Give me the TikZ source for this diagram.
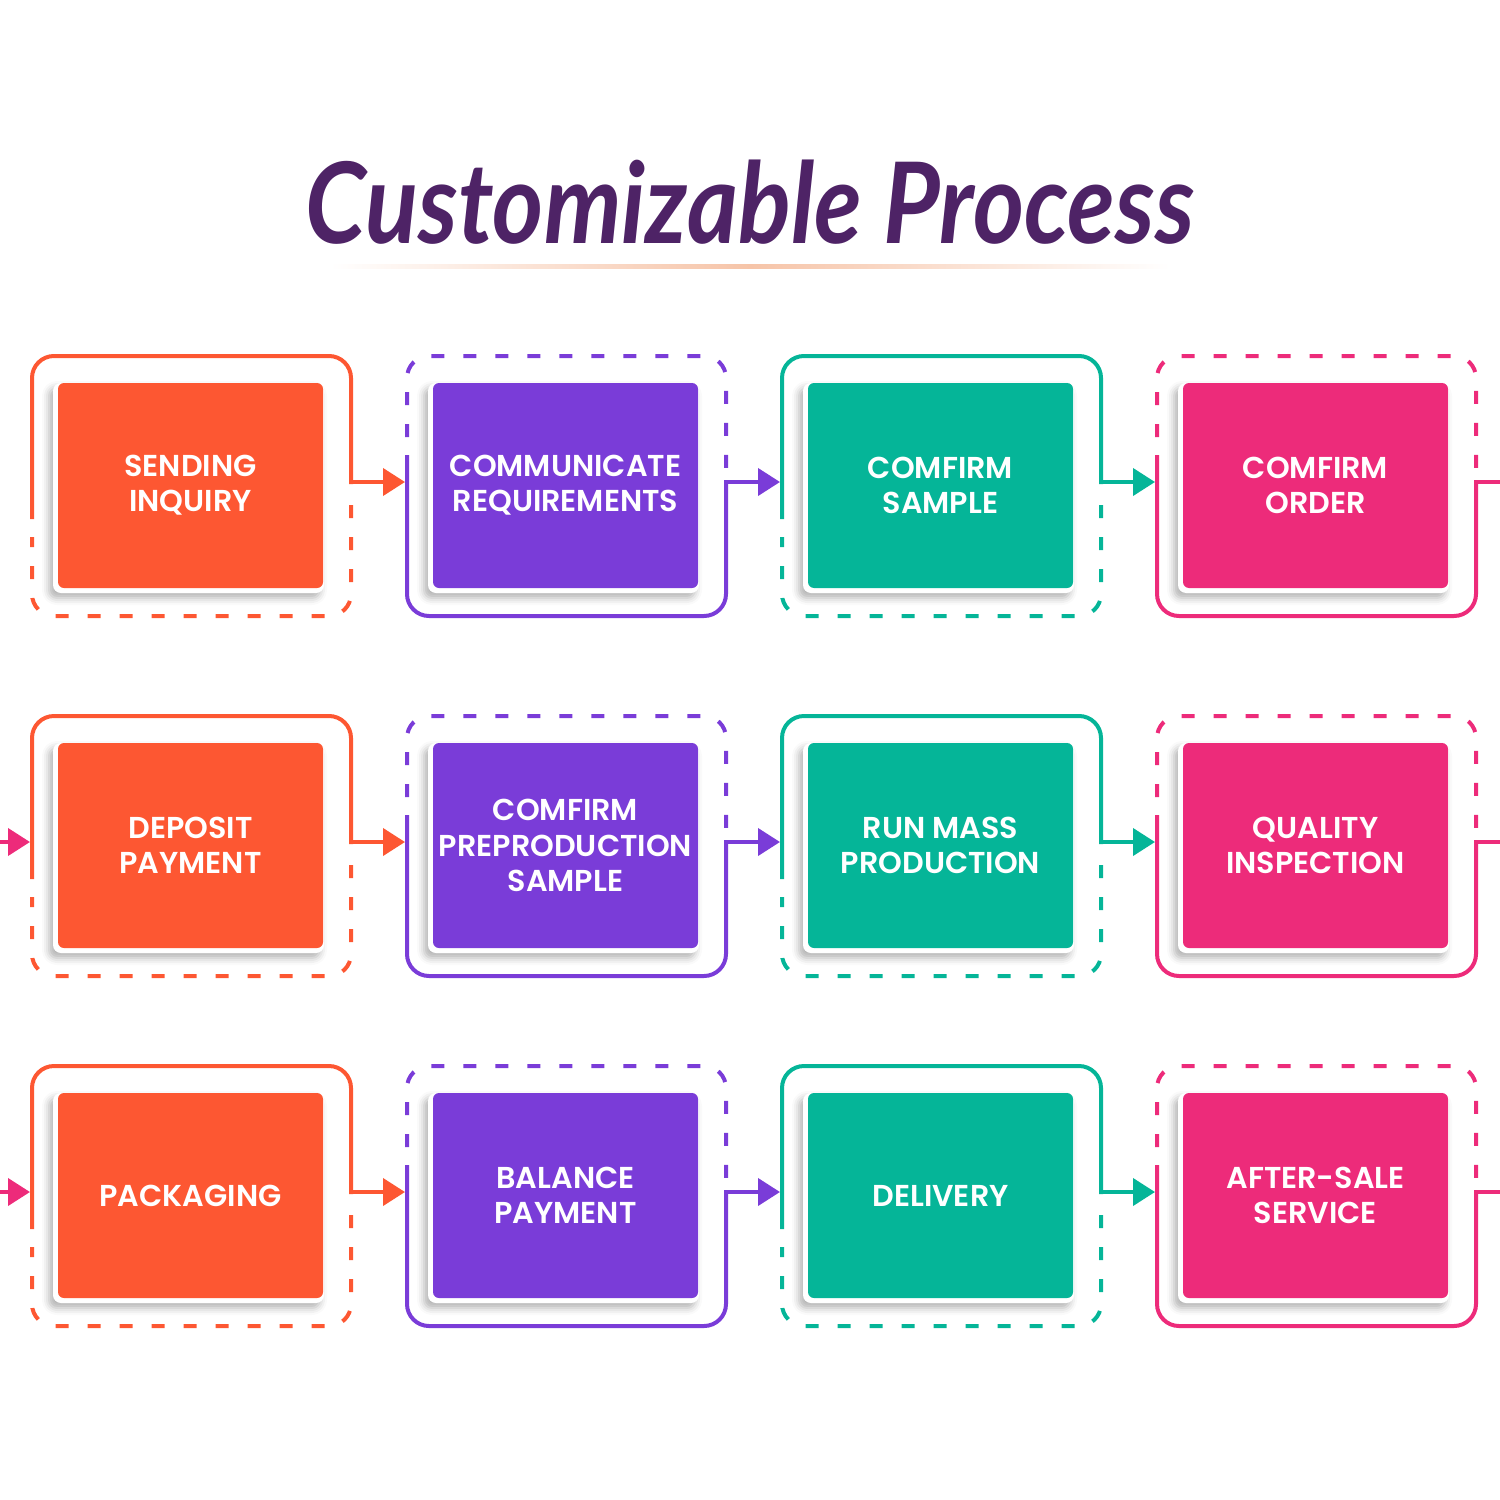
\documentclass[tikz,border=0pt]{standalone}
\usepackage{fontspec}
\newfontfamily\boxfont{Poppins SemiBold}
\newfontfamily\titlefont{Lato}
\usetikzlibrary{arrows.meta,shadows.blur}
\definecolor{corange}{HTML}{FD5732}
\definecolor{cpurple}{HTML}{7A3CD8}
\definecolor{cteal}{HTML}{05B598}
\definecolor{cpink}{HTML}{ED2B7A}
\definecolor{ctitle}{HTML}{4E2366}
\definecolor{cpeach}{HTML}{F6C4A8}

\begin{document}
\begin{tikzpicture}[x=0.1mm, y=-0.1mm, line width=0.4mm,
    box/.style={minimum width=26.5mm, minimum height=20.5mm, rounded corners=0.6mm, inner sep=0pt,
      text=white, align=center, font=\boxfont\fontsize{8.6}{10}\selectfont},
    card/.style={fill=white, rounded corners=0.8mm,
      blur shadow={shadow xshift=-0.4mm, shadow yshift=-0.5mm, shadow blur radius=0.7mm, shadow opacity=30}},
    dashedline/.style={dash pattern=on 1.3mm off 1.9mm},
    flow/.style={-{Triangle[length=2.2mm, width=2.7mm]}, shorten >=0.2mm, line cap=rect}]
    \useasboundingbox (0,0) rectangle (1500,1500);
    % title and its faint underline
    \node[text=ctitle, anchor=base, font=\titlefont\bfseries\itshape\fontsize{32}{36}\selectfont]
      (title) at (750,243) {\scalebox{0.87}[1]{Customizable Process}};
    \shade[left color=white, right color=cpeach] (330,264) rectangle (750,268);
    \shade[left color=cpeach, right color=white] (750,264) rectangle (1170,268);
    % frames, cards and steps
    \foreach \n/\L/\T/\clr/\kind/\txt in {
      1/32/356/corange/A/{SENDING\\INQUIRY},
      2/407/356/cpurple/B/{COMMUNICATE\\REQUIREMENTS},
      3/782/356/cteal/A/{COMFIRM\\SAMPLE},
      4/1157/356/cpink/B/{COMFIRM\\ORDER},
      5/32/716/corange/A/{DEPOSIT\\PAYMENT},
      6/407/716/cpurple/B/{COMFIRM\\PREPRODUCTION\\SAMPLE},
      7/782/716/cteal/A/{RUN MASS\\PRODUCTION},
      8/1157/716/cpink/B/{QUALITY\\INSPECTION},
      9/32/1066/corange/A/{PACKAGING},
      10/407/1066/cpurple/B/{BALANCE\\PAYMENT},
      11/782/1066/cteal/A/{DELIVERY},
      12/1157/1066/cpink/B/{AFTER-SALE\\SERVICE}}
    {
      \if\kind A
        \draw[\clr, rounded corners=2.2mm, line cap=rect] (\L,\T+161) -- (\L,\T) -- (\L+319,\T) -- (\L+319,\T+126);
        \draw[\clr, dashedline, rounded corners=2.2mm] (\L+319,\T+149) -- (\L+319,\T+260) -- (\L,\T+260) -- (\L,\T+181);
      \else
        \draw[\clr, dashedline, rounded corners=2.2mm] (\L,\T+81) -- (\L,\T) -- (\L+319,\T) -- (\L+319,\T+112);
        \draw[\clr, rounded corners=2.2mm, line cap=rect] (\L,\T+101) -- (\L,\T+260) -- (\L+319,\T+260) -- (\L+319,\T+126);
      \fi
      \fill[card] (\L+21,\T+27) rectangle (\L+292,\T+237);
      \node[box, fill=\clr] (b\n) at (\L+158.5,\T+129.5) {\txt};
      \coordinate (in\n) at (\L,\T+126);
      \coordinate (out\n) at (\L+319,\T+126);
      \coordinate (entry\n) at (-20,\T+126);
      \coordinate (exit\n) at (1520,\T+126);
    }
    % connectors
    \foreach \a/\b/\clr in {1/2/corange, 2/3/cpurple, 3/4/cteal, 5/6/corange, 6/7/cpurple,
      7/8/cteal, 9/10/corange, 10/11/cpurple, 11/12/cteal}
      \draw[flow, \clr] (out\a) -- (in\b);
    \foreach \a in {4,8,12}
      \draw[cpink, line cap=rect] (out\a) -- (exit\a);
    \foreach \a in {5,9}
      \draw[flow, cpink] (entry\a) -- (in\a);
\end{tikzpicture}
\end{document}
